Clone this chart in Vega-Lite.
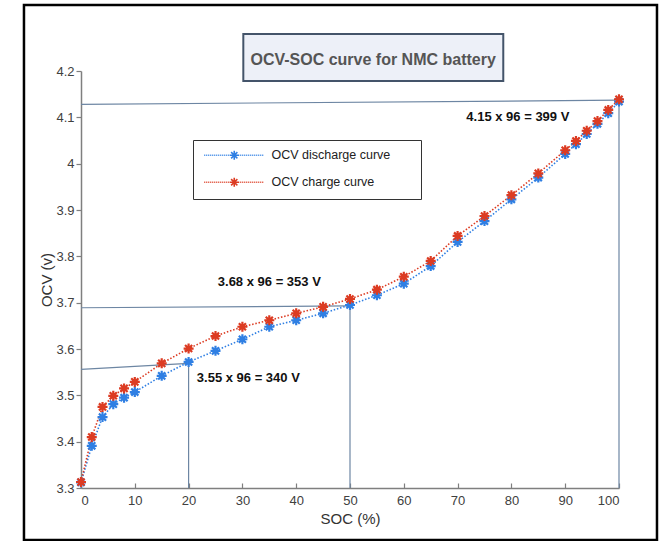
{
  "$schema": "https://vega.github.io/schema/vega-lite/v6.json",
  "autosize": {"type": "none"},
  "width": 538,
  "height": 417,
  "padding": {"left": 81, "top": 71, "right": 40, "bottom": 53},
  "background": "white",
  "config": {
    "view": {"stroke": null},
    "font": "Liberation Sans",
    "axis": {
      "domainColor": "#7f7f7f",
      "domainWidth": 1.5,
      "tickColor": "#7f7f7f",
      "tickWidth": 1.2,
      "grid": false,
      "labelColor": "#404040",
      "labelFont": "Liberation Sans",
      "labelFontSize": 13,
      "titleFont": "Liberation Sans",
      "titleFontSize": 15,
      "titleFontWeight": "normal",
      "titleColor": "#333333"
    }
  },
  "datasets": {
    "curves": [
      {"soc": 0, "ocv": 3.312, "curve": "OCV discharge curve"},
      {"soc": 2, "ocv": 3.391, "curve": "OCV discharge curve"},
      {"soc": 4, "ocv": 3.453, "curve": "OCV discharge curve"},
      {"soc": 6, "ocv": 3.481, "curve": "OCV discharge curve"},
      {"soc": 8, "ocv": 3.495, "curve": "OCV discharge curve"},
      {"soc": 10, "ocv": 3.507, "curve": "OCV discharge curve"},
      {"soc": 15, "ocv": 3.542, "curve": "OCV discharge curve"},
      {"soc": 20, "ocv": 3.572, "curve": "OCV discharge curve"},
      {"soc": 25, "ocv": 3.596, "curve": "OCV discharge curve"},
      {"soc": 30, "ocv": 3.621, "curve": "OCV discharge curve"},
      {"soc": 35, "ocv": 3.648, "curve": "OCV discharge curve"},
      {"soc": 40, "ocv": 3.662, "curve": "OCV discharge curve"},
      {"soc": 45, "ocv": 3.677, "curve": "OCV discharge curve"},
      {"soc": 50, "ocv": 3.695, "curve": "OCV discharge curve"},
      {"soc": 55, "ocv": 3.716, "curve": "OCV discharge curve"},
      {"soc": 60, "ocv": 3.741, "curve": "OCV discharge curve"},
      {"soc": 65, "ocv": 3.779, "curve": "OCV discharge curve"},
      {"soc": 70, "ocv": 3.831, "curve": "OCV discharge curve"},
      {"soc": 75, "ocv": 3.876, "curve": "OCV discharge curve"},
      {"soc": 80, "ocv": 3.923, "curve": "OCV discharge curve"},
      {"soc": 85, "ocv": 3.970, "curve": "OCV discharge curve"},
      {"soc": 90, "ocv": 4.021, "curve": "OCV discharge curve"},
      {"soc": 92, "ocv": 4.042, "curve": "OCV discharge curve"},
      {"soc": 94, "ocv": 4.064, "curve": "OCV discharge curve"},
      {"soc": 96, "ocv": 4.086, "curve": "OCV discharge curve"},
      {"soc": 98, "ocv": 4.109, "curve": "OCV discharge curve"},
      {"soc": 100, "ocv": 4.134, "curve": "OCV discharge curve"},
      {"soc": 0, "ocv": 3.313, "curve": "OCV charge curve"},
      {"soc": 2, "ocv": 3.410, "curve": "OCV charge curve"},
      {"soc": 4, "ocv": 3.475, "curve": "OCV charge curve"},
      {"soc": 6, "ocv": 3.499, "curve": "OCV charge curve"},
      {"soc": 8, "ocv": 3.515, "curve": "OCV charge curve"},
      {"soc": 10, "ocv": 3.529, "curve": "OCV charge curve"},
      {"soc": 15, "ocv": 3.569, "curve": "OCV charge curve"},
      {"soc": 20, "ocv": 3.601, "curve": "OCV charge curve"},
      {"soc": 25, "ocv": 3.628, "curve": "OCV charge curve"},
      {"soc": 30, "ocv": 3.648, "curve": "OCV charge curve"},
      {"soc": 35, "ocv": 3.662, "curve": "OCV charge curve"},
      {"soc": 40, "ocv": 3.677, "curve": "OCV charge curve"},
      {"soc": 45, "ocv": 3.691, "curve": "OCV charge curve"},
      {"soc": 50, "ocv": 3.708, "curve": "OCV charge curve"},
      {"soc": 55, "ocv": 3.728, "curve": "OCV charge curve"},
      {"soc": 60, "ocv": 3.756, "curve": "OCV charge curve"},
      {"soc": 65, "ocv": 3.790, "curve": "OCV charge curve"},
      {"soc": 70, "ocv": 3.844, "curve": "OCV charge curve"},
      {"soc": 75, "ocv": 3.887, "curve": "OCV charge curve"},
      {"soc": 80, "ocv": 3.932, "curve": "OCV charge curve"},
      {"soc": 85, "ocv": 3.979, "curve": "OCV charge curve"},
      {"soc": 90, "ocv": 4.029, "curve": "OCV charge curve"},
      {"soc": 92, "ocv": 4.049, "curve": "OCV charge curve"},
      {"soc": 94, "ocv": 4.071, "curve": "OCV charge curve"},
      {"soc": 96, "ocv": 4.092, "curve": "OCV charge curve"},
      {"soc": 98, "ocv": 4.116, "curve": "OCV charge curve"},
      {"soc": 100, "ocv": 4.139, "curve": "OCV charge curve"}
    ],
    "guides": [
      {"soc": 0, "soc2": 100, "ocv": 4.128, "ocv2": 4.137},
      {"soc": 100, "soc2": 100, "ocv": 4.137, "ocv2": 3.3},
      {"soc": 0, "soc2": 50, "ocv": 3.689, "ocv2": 3.693},
      {"soc": 50, "soc2": 50, "ocv": 3.693, "ocv2": 3.3},
      {"soc": 0, "soc2": 20, "ocv": 3.556, "ocv2": 3.569},
      {"soc": 20, "soc2": 20, "ocv": 3.569, "ocv2": 3.3}
    ],
    "notes": [
      {"soc": 81.2, "ocv": 4.100, "label": "4.15 x 96 = 399 V"},
      {"soc": 35.0, "ocv": 3.745, "label": "3.68 x 96 = 353 V"},
      {"soc": 31.1, "ocv": 3.538, "label": "3.55 x 96 = 340 V"}
    ]
  },
  "layer": [
    {
      "data": {"values": [{}]},
      "mark": {"type": "rect", "fill": null, "fillOpacity": 0, "stroke": "black", "strokeWidth": 2.5},
      "encoding": {
        "x": {"datum": -10.6, "type": "quantitative", "scale": {"domain": [0, 100]}},
        "x2": {"datum": 107.06},
        "y": {"datum": 4.3425, "type": "quantitative"},
        "y2": {"datum": 3.1877}
      }
    },
    {
      "data": {"values": [{}]},
      "mark": {"type": "rect", "fill": "#edf0f8", "stroke": "#44546a", "strokeWidth": 2},
      "encoding": {
        "x": {"datum": 30.17, "type": "quantitative"},
        "x2": {"datum": 78.49},
        "y": {"datum": 4.2799, "type": "quantitative"},
        "y2": {"datum": 4.1784}
      }
    },
    {
      "data": {"values": [{}]},
      "mark": {"type": "text", "font": "Liberation Sans", "fontSize": 16, "fontWeight": "bold", "color": "#555555", "align": "center", "baseline": "middle"},
      "encoding": {
        "x": {"datum": 54.3, "type": "quantitative"},
        "y": {"datum": 4.2237, "type": "quantitative"},
        "text": {"value": "OCV-SOC curve for NMC battery"}
      }
    },
    {
      "data": {"name": "guides"},
      "mark": {"type": "rule", "color": "#6d86a3", "strokeWidth": 1.2},
      "encoding": {
        "x": {"field": "soc", "type": "quantitative"},
        "x2": {"field": "soc2"},
        "y": {"field": "ocv", "type": "quantitative"},
        "y2": {"field": "ocv2"}
      }
    },
    {
      "data": {"name": "curves"},
      "mark": {"type": "line", "strokeWidth": 1.6, "strokeDash": [1.5, 1.8]},
      "encoding": {
        "x": {
          "field": "soc", "type": "quantitative",
          "scale": {"domain": [0, 100], "nice": false, "zero": false},
          "axis": {"title": "SOC (%)", "values": [0, 10, 20, 30, 40, 50, 60, 70, 80, 90, 100], "tickSize": -5, "labelPadding": 11, "titlePadding": 4}
        },
        "y": {
          "field": "ocv", "type": "quantitative",
          "scale": {"domain": [3.3, 4.2], "nice": false, "zero": false},
          "axis": {"title": "OCV (v)", "values": [3.3, 3.4, 3.5, 3.6, 3.7, 3.8, 3.9, 4.0, 4.1, 4.2], "format": "~g", "tickSize": 5, "labelPadding": 2, "titlePadding": 1}
        },
        "color": {
          "field": "curve", "type": "nominal",
          "scale": {"domain": ["OCV discharge curve", "OCV charge curve"], "range": ["#2f7fe3", "#dc3b22"]},
          "legend": {
            "title": null,
            "orient": "none",
            "legendX": 112,
            "legendY": 69,
            "padding": 9,
            "rowPadding": 11,
            "strokeColor": "#333333",
            "fillColor": "white",
            "symbolType": "M-1,0h0.25M-0.5,0h0.25M0,0h0.25M0.5,0h0.25M1,0h0.25M1.5,0h0.25M2,0h0.25M2.5,0h0.25M3,0h0.25M3.5,0h0.25M4,0h0.25M4.5,0h0.25M5,0h0.25M5.5,0h0.25M6,0h0.25M6.5,0h0.25M7,0h0.25M7.5,0h0.25M8,0h0.25M8.5,0h0.25M9,0h0.25M9.5,0h0.25M10,0h0.25M10.5,0h0.25M11,0h0.25M11.5,0h0.25M12,0h0.25M12.5,0h0.25M13,0h0.25M13.5,0h0.25M6.5,-1.1L6.5,1.1M5.4,0L7.6,0M5.72,-0.78L7.28,0.78M5.72,0.78L7.28,-0.78M50,0",
            "symbolSize": 64,
            "symbolStrokeWidth": 1.6,
            "labelOffset": 57,
            "labelFont": "Liberation Sans",
            "labelFontSize": 12.5,
            "labelColor": "#222222",
            "labelLimit": 400,
            "encode": {"symbols": {"update": {"fill": {"value": "transparent"}, "strokeDash": {"value": [1, 0]}}}}
          }
        }
      }
    },
    {
      "data": {"name": "curves"},
      "mark": {"type": "point", "shape": "M0,-1L0,1M-1,0L1,0M-0.71,-0.71L0.71,0.71M-0.71,0.71L0.71,-0.71", "size": 100, "strokeWidth": 2.2, "filled": false, "opacity": 1},
      "encoding": {
        "x": {"field": "soc", "type": "quantitative"},
        "y": {"field": "ocv", "type": "quantitative"},
        "color": {"field": "curve", "type": "nominal", "legend": null}
      }
    },
    {
      "data": {"name": "notes"},
      "mark": {"type": "text", "font": "Liberation Sans", "fontSize": 13, "fontWeight": "bold", "color": "#111111", "align": "center", "baseline": "middle"},
      "encoding": {
        "x": {"field": "soc", "type": "quantitative"},
        "y": {"field": "ocv", "type": "quantitative"},
        "text": {"field": "label"}
      }
    }
  ]
}
